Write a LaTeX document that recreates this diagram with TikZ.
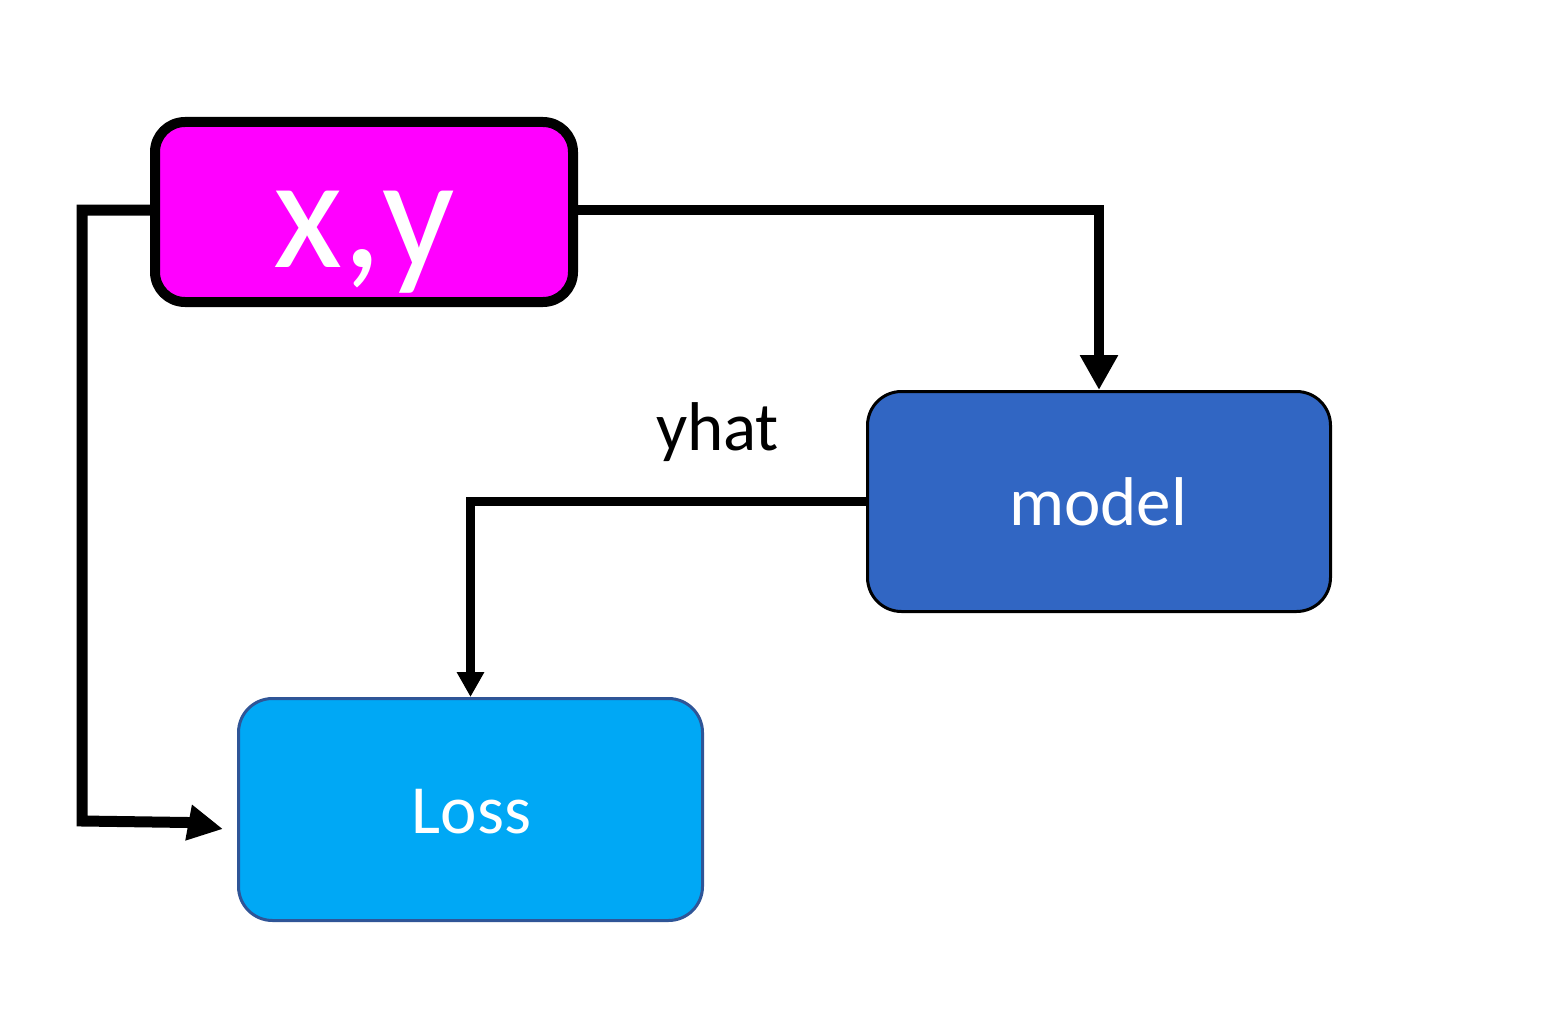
\documentclass[tikz,border=0pt]{standalone}
\usepackage{fontspec}
\setmainfont{Carlito}
\usetikzlibrary{arrows.meta}
\definecolor{xymag}{HTML}{FF00FF}
\definecolor{modelblue}{HTML}{3166C3}
\definecolor{lossblue}{HTML}{00A8F5}
\definecolor{lossedge}{HTML}{2F5597}
\tikzset{
  boxnode/.style={rectangle, rounded corners=34pt, inner sep=0pt},
  lbl/.style={anchor=base, inner sep=0pt, font=\fontsize{69}{80}\selectfont},
  conn/.style={draw=black, line join=miter},
}
\begin{document}
\begin{tikzpicture}[x=1pt,y=-1pt]
\useasboundingbox (0,0) rectangle (1548,1022);
% boxes
\node[boxnode, rounded corners=30pt, fill=xymag, draw=black, line width=10pt,
      minimum width=418pt, minimum height=180pt] (xy) at (364,212) {};
\node[boxnode, fill=modelblue, draw=black, line width=3pt,
      minimum width=463pt, minimum height=220pt] (model) at (1099,501.5) {};
\node[boxnode, fill=lossblue, draw=lossedge, line width=3pt,
      minimum width=464pt, minimum height=222pt] (loss) at (470.5,809.5) {};
% texts
\node[lbl, text=white, font=\fontsize{160}{180}\selectfont] (xytext) at (364,267) {x,y};
\node[lbl, text=white] (modeltext) at (1098,525) {model};
\node[lbl, text=white] (losstext) at (471.5,833) {Loss};
\node[lbl, text=black] (yhat) at (717.5,450) {yhat};
% connectors
\coordinate (lcorner1) at (82,210);
\coordinate (lcorner2) at (82,821);
\coordinate (lbend) at (188,822.5);
\coordinate (lossin) at (223,829);
\draw[conn, line width=10pt, -{Triangle[length=35pt,width=36pt]}]
  (xy.east |- lcorner1) -| (model.north);
\draw[conn, line width=11pt, -{Triangle[length=35pt,width=34pt]}]
  (xy.west |- lcorner1) -- (lcorner1) -- (lcorner2) -- (lbend) -- (lossin);
\draw[conn, line width=9pt, -{Triangle[length=25pt,width=26pt]}]
  (model.west) -| (loss.north);
\end{tikzpicture}
\end{document}
